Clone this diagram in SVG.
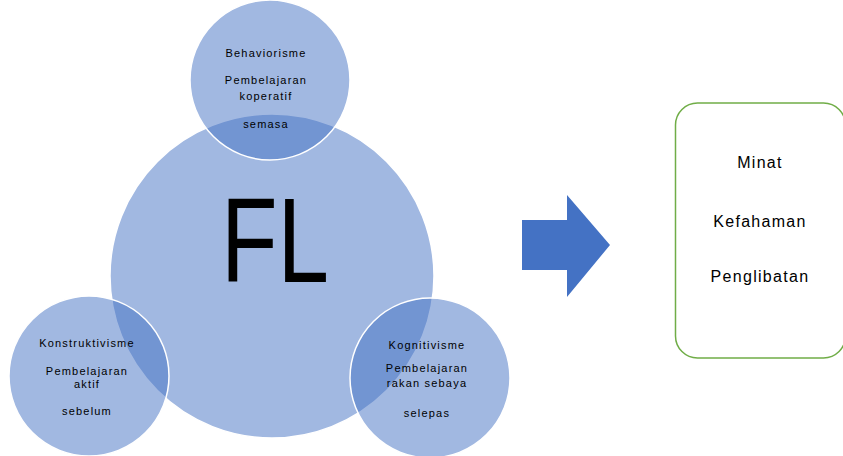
<svg xmlns="http://www.w3.org/2000/svg" width="843" height="456" viewBox="0 0 843 456">
<style>
.c{fill:#4472c4;fill-opacity:0.5;stroke:#ffffff;stroke-width:1.5}
.s{font-family:"Liberation Sans",Arial,sans-serif;font-size:11px;fill:#000;text-anchor:middle;letter-spacing:1.2px}
.r{font-family:"Liberation Sans",Arial,sans-serif;font-size:16px;fill:#000;text-anchor:middle;letter-spacing:1.3px}
</style>
<rect width="843" height="456" fill="#ffffff"/>
<g id="fl">
<circle class="c" cx="272" cy="276" r="162"/>
<text x="275" y="282" font-family="'Liberation Sans',Arial,sans-serif" font-size="120" fill="#000" text-anchor="middle" textLength="108" lengthAdjust="spacingAndGlyphs">FL</text>
</g>
<g id="behaviorisme">
<circle class="c" cx="270" cy="80" r="80"/>
<text class="s" x="266" y="57">Behaviorisme</text>
<text class="s" x="266" y="84">Pembelajaran</text>
<text class="s" x="266" y="100">koperatif</text>
<text class="s" x="266" y="128">semasa</text>
</g>
<g id="konstruktivisme">
<circle class="c" cx="89" cy="376" r="80"/>
<text class="s" x="87" y="347">Konstruktivisme</text>
<text class="s" x="87" y="375">Pembelajaran</text>
<text class="s" x="87" y="388">aktif</text>
<text class="s" x="87" y="415">sebelum</text>
</g>
<g id="kognitivisme">
<circle class="c" cx="430" cy="378" r="80"/>
<text class="s" x="427" y="349">Kognitivisme</text>
<text class="s" x="427" y="372">Pembelajaran</text>
<text class="s" x="427" y="387">rakan sebaya</text>
<text class="s" x="427" y="417">selepas</text>
</g>
<g id="connectors">
<polygon points="522,220 567,220 567,195 610,245 567,297 567,270 522,270" fill="#4472c4"/>
</g>
<g id="hasil">
<rect x="675.5" y="103" width="170" height="255" rx="22" fill="#ffffff" stroke="#70ad47" stroke-width="1.5"/>
<text class="r" x="760" y="168">Minat</text>
<text class="r" x="760" y="227">Kefahaman</text>
<text class="r" x="760" y="282">Penglibatan</text>
</g>
</svg>
